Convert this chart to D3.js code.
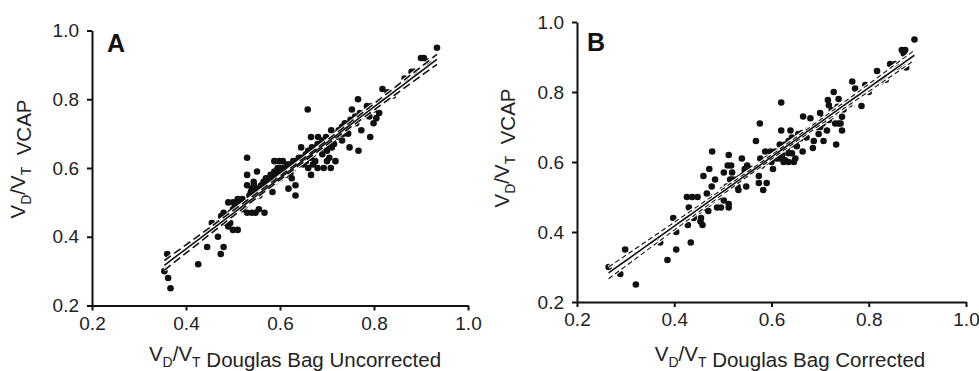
<!DOCTYPE html>
<html>
<head>
<meta charset="utf-8">
<script src="https://cdn.jsdelivr.net/npm/d3@7"></script>
<style>
  body { margin: 0; background: #fff; }
  svg { font-family: "Liberation Sans", Arial, sans-serif; }
  .tick text { font-size: 19px; fill: #222; }
  .tick line, .domain { stroke: #111; stroke-width: 2; }
  .axis-title { font-size: 20.5px; fill: #222; }
  .panel-label { font-size: 25px; font-weight: bold; fill: #111; }
</style>
</head>
<body>
<div id="chart"></div>
<script>
// Panel A: Douglas bag uncorrected vs VCAP
const bagUncorrected = [0.354,0.360,0.362,0.367,0.426,0.445,0.468,0.474,0.480,0.470,0.475,0.480,0.482,0.485,0.490,0.494,0.500,0.510,0.490,0.500,
  0.505,0.510,0.515,0.520,0.520,0.525,0.530,0.540,0.548,0.530,0.530,0.530,0.538,0.544,0.551,0.548,0.552,0.556,0.555,0.567,
  0.560,0.565,0.570,0.578,0.575,0.584,0.588,0.595,0.588,0.598,0.606,0.590,0.600,0.605,0.612,0.615,0.618,0.633,0.633,0.620,
  0.628,0.625,0.622,0.640,0.645,0.650,0.655,0.650,0.659,0.645,0.666,0.666,0.660,0.670,0.665,0.675,0.670,0.680,0.681,0.690,
  0.695,0.700,0.700,0.705,0.710,0.715,0.700,0.705,0.693,0.708,0.718,0.709,0.720,0.728,0.732,0.740,0.745,0.732,0.748,0.752,
  0.758,0.753,0.766,0.770,0.775,0.767,0.773,0.785,0.795,0.800,0.792,0.799,0.790,0.811,0.805,0.818,0.829,0.840,0.865,0.880,
  0.886,0.900,0.906,0.915,0.934,0.560,0.572,0.580,0.592,0.600,0.610,0.615,0.630,0.635,0.640,0.648,0.655,0.660,0.668,0.675,
  0.685,0.690,0.698,0.712,0.722,0.735,0.742,0.750,0.760,0.780,0.787,0.520,0.535,0.545,0.505,0.495,0.475,0.465,0.590,0.603,
  0.625,0.680,0.690,0.455,0.500,0.540,0.585,0.608,0.628,0.662,0.678,0.702,0.725,0.738,0.762,0.568,0.545,0.512];
const vcapA = [0.30,0.35,0.28,0.25,0.32,0.37,0.40,0.35,0.37,0.44,0.445,0.47,0.45,0.44,0.43,0.44,0.42,0.42,0.50,0.50,
  0.48,0.51,0.50,0.50,0.48,0.49,0.47,0.47,0.47,0.63,0.58,0.55,0.53,0.56,0.59,0.54,0.53,0.52,0.48,0.47,
  0.54,0.56,0.57,0.57,0.55,0.53,0.59,0.60,0.62,0.62,0.62,0.56,0.57,0.58,0.58,0.59,0.54,0.55,0.52,0.61,
  0.60,0.57,0.585,0.61,0.63,0.63,0.62,0.61,0.77,0.66,0.69,0.58,0.60,0.61,0.63,0.62,0.64,0.60,0.69,0.66,
  0.67,0.65,0.67,0.68,0.66,0.67,0.62,0.63,0.60,0.60,0.62,0.71,0.69,0.70,0.72,0.71,0.70,0.68,0.66,0.73,
  0.74,0.77,0.80,0.76,0.75,0.65,0.71,0.78,0.78,0.77,0.69,0.73,0.75,0.76,0.745,0.83,0.82,0.81,0.86,0.88,
  0.88,0.92,0.92,0.91,0.95,0.55,0.56,0.58,0.58,0.59,0.60,0.61,0.61,0.62,0.63,0.62,0.64,0.65,0.66,0.65,
  0.66,0.68,0.69,0.68,0.70,0.70,0.72,0.74,0.75,0.76,0.77,0.51,0.52,0.55,0.49,0.47,0.46,0.43,0.57,0.60,
  0.60,0.67,0.64,0.44,0.48,0.54,0.58,0.59,0.62,0.64,0.66,0.66,0.71,0.73,0.73,0.55,0.53,0.50];

// Panel B: Douglas bag corrected vs VCAP
const bagCorrected = [0.265,0.289,0.299,0.321,0.371,0.386,0.398,0.404,0.404,0.434,0.428,0.430,0.426,0.437,0.448,0.440,0.454,0.458,0.460,0.472,
  0.478,0.467,0.468,0.480,0.477,0.484,0.488,0.496,0.502,0.512,0.512,0.512,0.502,0.510,0.517,0.519,0.520,0.530,0.532,0.548,
  0.539,0.550,0.553,0.560,0.568,0.576,0.574,0.574,0.583,0.590,0.577,0.587,0.598,0.608,0.603,0.611,0.618,0.628,0.620,0.620,
  0.617,0.628,0.635,0.642,0.639,0.635,0.642,0.649,0.625,0.635,0.646,0.652,0.659,0.664,0.663,0.665,0.680,0.690,0.685,0.687,
  0.697,0.700,0.700,0.707,0.707,0.714,0.716,0.718,0.724,0.728,0.733,0.731,0.738,0.742,0.738,0.736,0.745,0.745,0.755,0.766,
  0.772,0.785,0.793,0.810,0.817,0.844,0.855,0.868,0.875,0.872,0.877,0.894,0.440,0.450,0.462,0.470,0.478,0.490,0.500,0.508,
  0.522,0.528,0.540,0.545,0.555,0.565,0.580,0.592,0.600,0.612,0.625,0.632,0.640,0.650,0.658,0.670,0.675,0.692,0.712,0.722,
  0.750,0.760,0.780,0.800,0.825,0.835,0.862,0.470,0.485,0.515,0.535,0.545,0.600,0.615,0.648,0.655,0.672,0.705,0.730,0.748,
  0.455,0.525,0.558,0.588,0.622,0.645,0.668,0.695,0.718];
const vcapB = [0.30,0.28,0.35,0.25,0.37,0.32,0.44,0.40,0.35,0.37,0.42,0.47,0.50,0.50,0.50,0.44,0.43,0.42,0.56,0.58,
  0.63,0.51,0.48,0.50,0.53,0.55,0.47,0.47,0.49,0.47,0.48,0.62,0.57,0.59,0.59,0.57,0.55,0.53,0.52,0.53,
  0.61,0.59,0.57,0.58,0.66,0.71,0.56,0.54,0.52,0.54,0.61,0.63,0.63,0.63,0.58,0.61,0.61,0.605,0.77,0.69,
  0.65,0.65,0.66,0.67,0.69,0.625,0.625,0.61,0.60,0.60,0.60,0.645,0.667,0.63,0.683,0.73,0.725,0.705,0.64,0.66,
  0.68,0.70,0.74,0.725,0.66,0.69,0.777,0.762,0.748,0.80,0.65,0.71,0.71,0.71,0.78,0.758,0.729,0.69,0.77,0.83,
  0.81,0.76,0.82,0.82,0.86,0.88,0.88,0.92,0.92,0.91,0.87,0.95,0.45,0.46,0.47,0.48,0.49,0.50,0.52,0.53,
  0.54,0.55,0.56,0.57,0.575,0.58,0.59,0.61,0.61,0.62,0.64,0.64,0.65,0.66,0.67,0.68,0.69,0.70,0.72,0.73,
  0.76,0.765,0.79,0.80,0.83,0.835,0.87,0.46,0.50,0.55,0.555,0.58,0.60,0.63,0.66,0.68,0.67,0.71,0.74,0.75,
  0.44,0.54,0.58,0.60,0.62,0.66,0.68,0.70,0.72];

const ticks = [0.2, 0.4, 0.6, 0.8, 1.0];

const svg = d3.select("#chart").append("svg")
  .attr("width", 979)
  .attr("height", 371);

const panels = [
  { xs: bagUncorrected, ys: vcapA, label: "A", title: "Douglas Bag Uncorrected",
    x: [92, 468], y: [305.5, 30.5], labelPos: [107, 52], xTitleX: 295, yTitle: [25, 159], dash: "8,4", dashW: 1.6 },
  { xs: bagCorrected, ys: vcapB, label: "B", title: "Douglas Bag Corrected",
    x: [577, 966], y: [302, 22], labelPos: [587, 51], xTitleX: 790, yTitle: [509, 148], dash: "5,3", dashW: 1.1 }
];

panels.forEach(p => drawPanel(p));

function drawPanel(p) {
  const x = d3.scaleLinear().domain([0.2, 1.0]).range(p.x);
  const y = d3.scaleLinear().domain([0.2, 1.0]).range(p.y);
  const g = svg.append("g");
  const pts = p.xs.map((v, i) => [v, p.ys[i]]);

  g.selectAll("circle")
    .data(pts)
    .enter()
    .append("circle")
    .attr("cx", d => x(d[0]))
    .attr("cy", d => y(d[1]))
    .attr("r", 3.3)
    .attr("fill", "#111");

  // least squares fit with 95% confidence band of the mean
  const n = pts.length;
  const mx = d3.mean(p.xs), my = d3.mean(p.ys);
  const sxx = d3.sum(p.xs, v => (v - mx) ** 2);
  const sxy = d3.sum(pts, d => (d[0] - mx) * (d[1] - my));
  const b = sxy / sxx, a = my - b * mx;
  const se = Math.sqrt(d3.sum(pts, d => (d[1] - a - b * d[0]) ** 2) / (n - 2));
  const [x0, x1] = d3.extent(p.xs);
  const grid = d3.range(0, 41).map(i => x0 + (x1 - x0) * i / 40);
  const half = v => 1.97 * se * Math.sqrt(1 / n + (v - mx) ** 2 / sxx);

  const line = d3.line().x(d => x(d[0])).y(d => y(d[1]));
  const fit = grid.map(v => [v, a + b * v]);
  const upper = grid.map(v => [v, a + b * v + half(v)]);
  const lower = grid.map(v => [v, a + b * v - half(v)]);

  [fit, upper, lower].forEach(l => {
    g.append("path").attr("d", line(l)).attr("fill", "none")
      .attr("stroke", "#fff").attr("stroke-width", 3.2);
  });
  g.append("path").attr("d", line(fit)).attr("fill", "none")
    .attr("stroke", "#111").attr("stroke-width", 1.6);
  [upper, lower].forEach(l => {
    g.append("path").attr("d", line(l)).attr("fill", "none")
      .attr("stroke", "#111").attr("stroke-width", p.dashW)
      .attr("stroke-dasharray", p.dash);
  });

  g.append("g")
    .attr("transform", `translate(0,${p.y[0]})`)
    .call(d3.axisBottom(x).tickValues(ticks).tickFormat(d3.format(".1f")).tickSize(5).tickSizeOuter(0).tickPadding(6))
    .call(s => s.selectAll("text").attr("font-family", null).attr("font-size", null));

  g.append("g")
    .attr("transform", `translate(${p.x[0]},0)`)
    .call(d3.axisLeft(y).tickValues(ticks).tickFormat(d3.format(".1f")).tickSize(5).tickSizeOuter(0).tickPadding(8))
    .call(s => s.selectAll("text").attr("font-family", null).attr("font-size", null));

  // x axis title
  const xt = g.append("text")
    .attr("class", "axis-title")
    .attr("text-anchor", "middle")
    .attr("x", p.xTitleX)
    .attr("y", 361);
  addVdVt(xt);
  xt.append("tspan").text(" " + p.title);

  // y axis title
  const yt = g.append("text")
    .attr("class", "axis-title")
    .attr("text-anchor", "middle")
    .attr("transform", `translate(${p.yTitle[0]},${p.yTitle[1]}) rotate(-90)`);
  addVdVt(yt);
  yt.append("tspan").text("\u00a0\u00a0VCAP");

  g.append("text")
    .attr("class", "panel-label")
    .attr("x", p.labelPos[0])
    .attr("y", p.labelPos[1])
    .text(p.label);
}

function addVdVt(t) {
  t.append("tspan").text("V");
  t.append("tspan").attr("dy", 6).attr("font-size", 14).text("D");
  t.append("tspan").attr("dy", -6).text("/V");
  t.append("tspan").attr("dy", 6).attr("font-size", 14).text("T");
  t.append("tspan").attr("dy", -6).text("");
}
</script>
</body>
</html>
